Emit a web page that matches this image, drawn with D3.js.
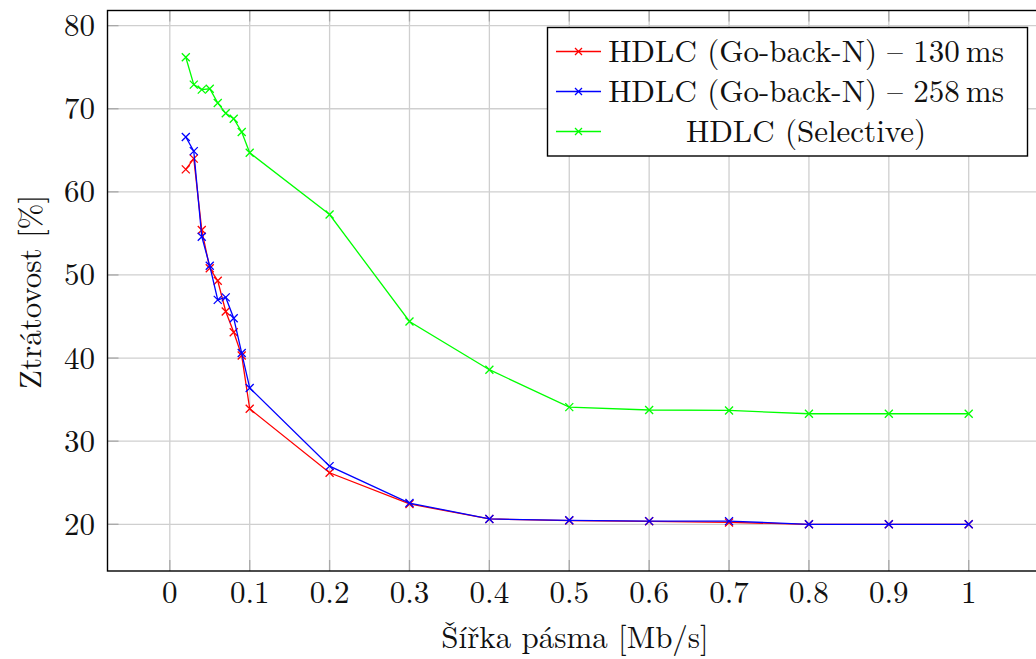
<!DOCTYPE html>
<html><head><meta charset="utf-8">
<script src="https://cdn.jsdelivr.net/npm/d3@7/dist/d3.min.js"></script>
<style>body{margin:0;background:#fff;}</style></head>
<body><svg id="c" width="1036" height="659"></svg>
<script>
const xValues = [0.02,0.03,0.04,0.05,0.06,0.07,0.08,0.09,0.1,0.2,0.3,0.4,0.5,0.6,0.7,0.8,0.9,1];
const red130  = [62.7,64.0,55.4,50.8,49.3,45.6,43.1,40.3,33.9,26.2,22.45,20.64,20.45,20.36,20.22,20.0,20.0,20.0];
const blue258 = [66.6,64.9,54.6,51.1,47.0,47.3,44.8,40.6,36.4,27.0,22.56,20.64,20.48,20.38,20.38,20.0,20.0,20.0];
const greenSel= [76.2,72.9,72.3,72.4,70.7,69.45,68.8,67.2,64.7,57.27,44.4,38.6,34.1,33.75,33.7,33.3,33.3,33.3];
const seriesNames = ["HDLC (Go-back-N) – 130\u2009ms","HDLC (Go-back-N) – 258\u2009ms","HDLC (Selective)"];
const seriesColors = ["#ff0000","#0000ff","#00ff00"];
const xTicks = [0,0.1,0.2,0.3,0.4,0.5,0.6,0.7,0.8,0.9,1];
const yTicks = [20,30,40,50,60,70,80];
const xLabel = "Šířka pásma [Mb/s]";
const yLabel = "Ztrátovost [%]";

const FONT = '"Latin Modern Roman", "Liberation Serif"';
const FS = 31;
const svg = d3.select("#c");
const L=107.5, T=10.5, R=1047, B=571;
const x = d3.scaleLinear().domain([-0.078,1.098]).range([L,R]);
const y = d3.scaleLinear().domain([14.38,81.82]).range([B,T]);

// grid
const g = svg.append("g");
g.selectAll(".gx").data(xTicks).join("line")
  .attr("x1",d=>x(d)).attr("x2",d=>x(d)).attr("y1",T).attr("y2",B)
  .attr("stroke","#cfcfcf").attr("stroke-width",1.3);
g.selectAll(".gy").data(yTicks).join("line")
  .attr("y1",d=>y(d)).attr("y2",d=>y(d)).attr("x1",L).attr("x2",R)
  .attr("stroke","#cfcfcf").attr("stroke-width",1.3);

// ticks (inward)
const tk="#a8a8a8", tl=11;
g.selectAll(".tb").data(xTicks).join("line")
  .attr("x1",d=>x(d)).attr("x2",d=>x(d)).attr("y1",B).attr("y2",B-tl).attr("stroke",tk).attr("stroke-width",1.3);
g.selectAll(".tt").data(xTicks).join("line")
  .attr("x1",d=>x(d)).attr("x2",d=>x(d)).attr("y1",T).attr("y2",T+tl).attr("stroke",tk).attr("stroke-width",1.3);
g.selectAll(".tl").data(yTicks).join("line")
  .attr("y1",d=>y(d)).attr("y2",d=>y(d)).attr("x1",L).attr("x2",L+tl).attr("stroke",tk).attr("stroke-width",1.3);

// border
svg.append("rect").attr("x",L).attr("y",T).attr("width",R-L).attr("height",B-T)
  .attr("fill","none").attr("stroke","#000").attr("stroke-width",1.4);

// tick labels
svg.append("g").selectAll("text").data(xTicks).join("text")
  .attr("x",d=>x(d)).attr("y",603).attr("text-anchor","middle").style("font-family",FONT)
  .attr("font-size",FS).attr("fill","#111").text(d=>d3.format("")(d));
svg.append("g").selectAll("text").data(yTicks).join("text")
  .attr("x",95).attr("y",d=>y(d)).attr("dy","0.34em").attr("text-anchor","end").style("font-family",FONT)
  .attr("font-size",FS).attr("fill","#111").text(d=>d);

// axis labels
svg.append("text").attr("x",575).attr("y",648).attr("text-anchor","middle").style("font-family",FONT)
  .attr("font-size",FS).attr("fill","#111").text(xLabel);
svg.append("text").attr("transform","translate(41,292) rotate(-90)").attr("text-anchor","middle").style("font-family",FONT)
  .attr("font-size",FS).attr("fill","#111").text(yLabel);

// series
const allSeries=[red130,blue258,greenSel];
const line = d3.line().x((d,i)=>x(xValues[i])).y(d=>y(d));
const plot = svg.append("g");
function cross(sel, cx, cy, s, color){
  sel.append("path").attr("d",`M${cx-s},${cy-s}L${cx+s},${cy+s}M${cx-s},${cy+s}L${cx+s},${cy-s}`)
    .attr("stroke",color).attr("stroke-width",1.3).attr("fill","none");
}
allSeries.forEach((vals,k)=>{
  plot.append("path").datum(vals).attr("d",line).attr("fill","none")
    .attr("stroke",seriesColors[k]).attr("stroke-width",1.3);
  vals.forEach((v,i)=>cross(plot,x(xValues[i]),y(v),4,seriesColors[k]));
});

// legend
const lg = svg.append("g");
lg.append("rect").attr("x",547.5).attr("y",27.5).attr("width",480).attr("height",128.5)
  .attr("fill","#fff").attr("stroke","#000").attr("stroke-width",1.4);
const rowY=[51.5,91.5,131.5];
seriesNames.forEach((name,k)=>{
  lg.append("line").attr("x1",556).attr("x2",601).attr("y1",rowY[k]).attr("y2",rowY[k])
    .attr("stroke",seriesColors[k]).attr("stroke-width",1.3);
  cross(lg,578.5,rowY[k],3.5,seriesColors[k]);
  lg.append("text").attr("x",806).attr("y",rowY[k]).attr("dy","0.34em").attr("text-anchor","middle").style("font-family",FONT)
    .attr("font-size",FS).attr("fill","#111").text(name);
});
</script></body></html>
